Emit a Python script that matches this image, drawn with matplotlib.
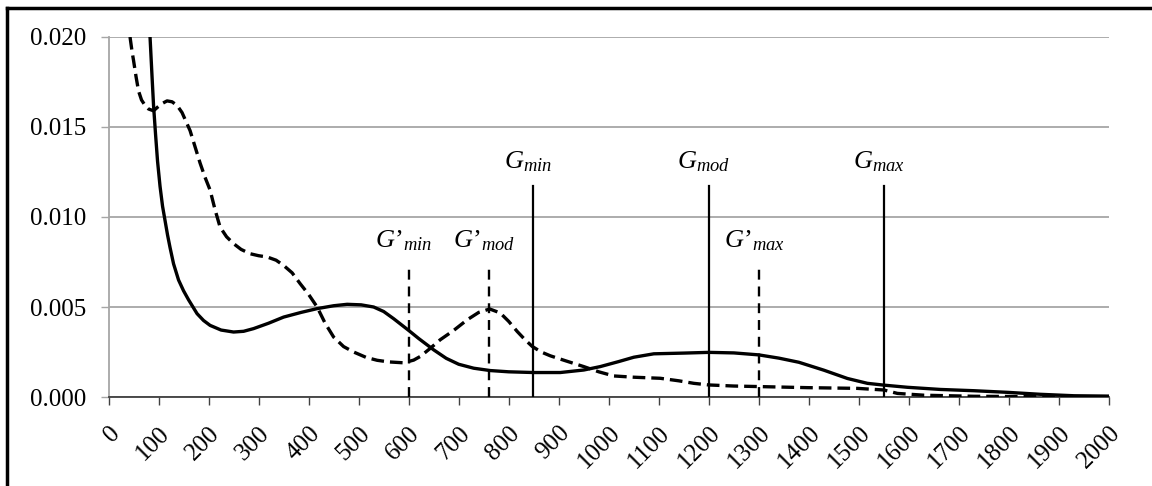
import numpy as np
import matplotlib
matplotlib.use("Agg")
import matplotlib.pyplot as plt
from matplotlib.lines import Line2D

plt.rcParams["font.family"] = ["Liberation Serif", "DejaVu Serif"]
plt.rcParams["mathtext.fontset"] = "custom"
plt.rcParams["mathtext.rm"] = "Liberation Serif"
plt.rcParams["mathtext.it"] = "Liberation Serif:italic"

# solid curve (G)
g_x = [78, 83, 87, 90, 94, 98, 103, 108, 113, 118, 123, 130, 140, 150, 160,
       177, 190, 203, 225, 250, 270, 290, 320, 350, 385, 417, 450, 477, 505,
       530, 550, 570, 600, 620, 650, 675, 700, 730, 763, 800, 850, 903, 950,
       983, 1020, 1050, 1090, 1150, 1200, 1250, 1300, 1340, 1380, 1430, 1477,
       1517, 1550, 1597, 1663, 1730, 1797, 1863, 1930, 2000]
g_y = [0.0212, 0.0200, 0.0178, 0.0162, 0.0146, 0.0131, 0.0117, 0.0106, 0.0098,
       0.0090, 0.0083, 0.0074, 0.0065, 0.0059, 0.0054, 0.00463, 0.00425,
       0.00398, 0.00372, 0.00361, 0.00365, 0.00380, 0.00410, 0.00444, 0.00470,
       0.00491, 0.00507, 0.00515, 0.00512, 0.00500, 0.00475, 0.00435, 0.00370,
       0.00325, 0.00262, 0.00215, 0.00182, 0.00160, 0.00147, 0.00140, 0.00136,
       0.00136, 0.00150, 0.00169, 0.00197, 0.00221, 0.00240, 0.00244, 0.00248,
       0.00245, 0.00234, 0.00216, 0.00193, 0.00149, 0.00103, 0.00076, 0.00066,
       0.00054, 0.00042, 0.00035, 0.00026, 0.00015, 0.00007, 0.00005]

# dashed curve (G')
gp_x = [43, 47, 50, 55, 60, 66, 73, 80, 90, 98, 107, 117, 127, 137, 147, 155,
        163, 173, 183, 193, 203, 213, 223, 236, 250, 265, 283, 300, 317, 335,
        350, 367, 383, 400, 417, 433, 450, 470, 490, 515, 537, 560, 590, 610,
        623, 643, 663, 690, 717, 740, 762, 783, 800, 817, 832, 847, 865, 883,
        915, 950, 980, 1010, 1050, 1103, 1140, 1170, 1200, 1250, 1300, 1397,
        1497, 1550, 1577, 1630, 1730, 1863, 2000]
gp_y = [0.0200, 0.0192, 0.0187, 0.0178, 0.0170, 0.0165, 0.0162, 0.0160, 0.0159,
        0.0161, 0.0163, 0.01645, 0.0164, 0.0162, 0.0158, 0.0153, 0.0148, 0.0139,
        0.0130, 0.0122, 0.0115, 0.0104, 0.00944, 0.0089, 0.00852, 0.0082,
        0.00796, 0.00785, 0.00778, 0.0076, 0.00731, 0.0069, 0.0063, 0.0057,
        0.0050, 0.0041, 0.00333, 0.0028, 0.0025, 0.0022, 0.00204, 0.00195,
        0.0019, 0.00205, 0.00225, 0.0027, 0.00318, 0.0037, 0.00429, 0.0047,
        0.00489, 0.00467, 0.0042, 0.00364, 0.0032, 0.00281, 0.0025, 0.00229,
        0.0020, 0.00169, 0.0014, 0.00117, 0.0011, 0.00104, 0.0009, 0.00076,
        0.00067, 0.00061, 0.00058, 0.00052, 0.00048, 0.00039, 0.00020, 0.00010,
        0.00004, 0.00002, 0.0]

# marker lines
g_marks = [848, 1200, 1550]
g_labels = ["$G_{min}$", "$G_{mod}$", "$G_{max}$"]
gp_marks = [600, 760, 1300]
gp_labels = ["$G\u2019_{min}$", "$G\u2019_{mod}$", "$G\u2019_{max}$"]
g_top, gp_top = 0.01172, 0.00733
g_lab_y, gp_lab_y = 0.0127, 0.0083

x_ticks = list(range(0, 2001, 100))
y_ticks = [0.000, 0.005, 0.010, 0.015, 0.020]

fig = plt.figure(figsize=(11.52, 4.86), dpi=100)
ax = fig.add_axes([0.0942, 0.1831, 0.8685, 0.7408])

ax.plot(g_x, g_y, color="black", lw=2.4, solid_joinstyle="round", zorder=4)
ax.plot(gp_x, gp_y, color="black", lw=2.4, dashes=(3.8, 1.8), zorder=4)

for xm, lab in zip(g_marks, g_labels):
    ax.plot([xm, xm], [0, g_top], color="black", lw=1.6, zorder=3)
    ax.text(xm - 10, g_lab_y, lab, ha="center", va="baseline", fontsize=19)
for xm, lab in zip(gp_marks, gp_labels):
    ax.plot([xm, xm], [0, gp_top], color="black", lw=1.7, dashes=(4.2, 2.9), zorder=3)
    ax.text(xm - 10, gp_lab_y, lab, ha="center", va="baseline", fontsize=19)

ax.set_xlim(0, 2000)
ax.set_ylim(0, 0.020)
ax.set_xticks(x_ticks)
ax.set_xticklabels([str(v) for v in x_ticks], rotation=45, ha="right",
                   rotation_mode="anchor", fontsize=18)
ax.set_yticks(y_ticks)
ax.set_yticklabels([f"{v:.3f}" for v in y_ticks], fontsize=18)
ax.yaxis.grid(True, color="#a6a6a6", lw=1.3)
ax.set_axisbelow(True)
ax.tick_params(axis="x", length=6, width=1.0, color="#404040", pad=12)
ax.tick_params(axis="y", length=6, width=1.0, color="#a6a6a6", pad=10)

for side in ["top", "right"]:
    ax.spines[side].set_visible(False)
ax.spines["left"].set_color("#a6a6a6")
ax.spines["left"].set_linewidth(1.3)
ax.spines["bottom"].set_color("#404040")
ax.spines["bottom"].set_linewidth(1.3)

# frame around the figure (top and left edges visible)
fig.add_artist(Line2D([0.0065, 1.0], [0.983, 0.983], color="black", lw=2.5,
                      transform=fig.transFigure))
fig.add_artist(Line2D([0.0065, 0.0065], [0.0, 0.983], color="black", lw=2.5,
                      transform=fig.transFigure))

fig.savefig("out.png", dpi=100)
